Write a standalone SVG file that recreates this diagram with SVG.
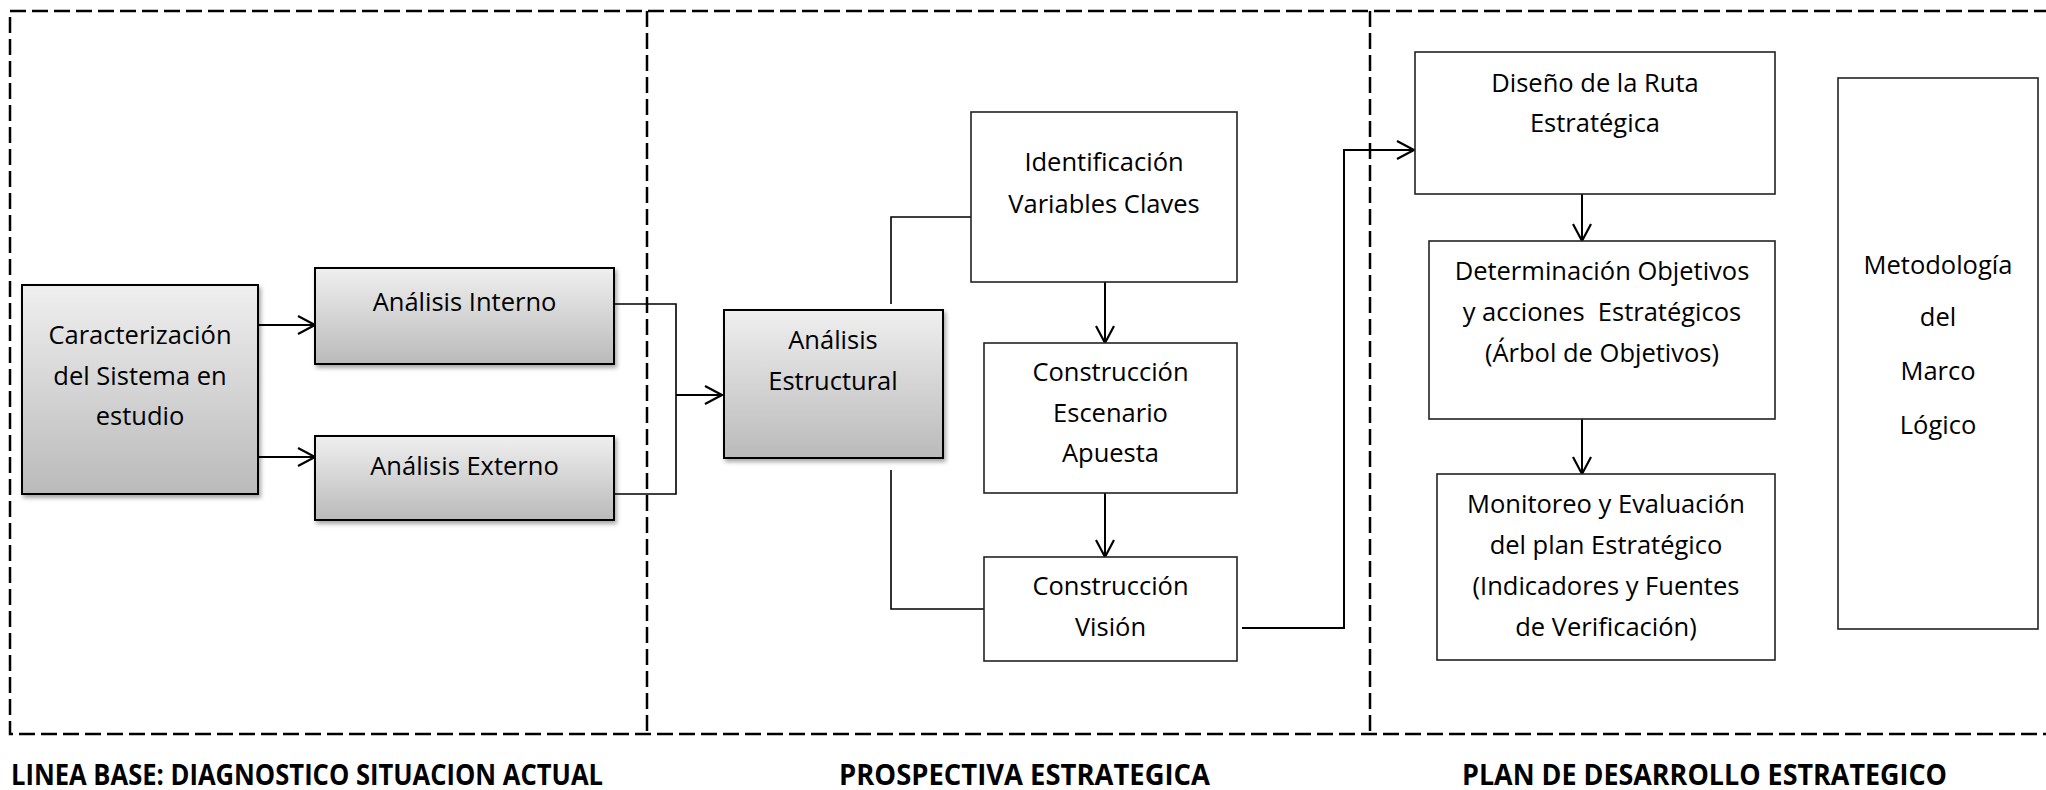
<svg xmlns="http://www.w3.org/2000/svg" width="2046" height="790" viewBox="0 0 2046 790">
  <defs>
    <linearGradient id="grey" x1="0" y1="0" x2="0" y2="1">
      <stop offset="0" stop-color="#efefef"/>
      <stop offset="1" stop-color="#bababa"/>
    </linearGradient>
    <filter id="shadow" x="-10%" y="-10%" width="130%" height="130%">
      <feDropShadow dx="2" dy="3" stdDeviation="2" flood-color="#000" flood-opacity="0.35"/>
    </filter>
    <marker id="arrow" markerUnits="userSpaceOnUse" markerWidth="22" markerHeight="22" refX="18" refY="10" orient="auto">
      <path d="M1,1 L18,10 L1,19" fill="none" stroke="#000" stroke-width="2.2"/>
    </marker>
    <style>
      .zone { fill: none; stroke: #000; stroke-width: 2.5; stroke-dasharray: 16 6; }
      .shaded { fill: url(#grey); stroke: #000; stroke-width: 2; filter: url(#shadow); }
      .plain { fill: #fff; stroke: #222; stroke-width: 1.6; }
      .label { font-family: "Open Sans", "Liberation Sans", sans-serif; font-size: 25.5px; fill: #000; text-anchor: middle; }
      .title { font-family: "Open Sans", "Liberation Sans", sans-serif; font-size: 29px; font-weight: bold; fill: #000; }
      .link { fill: none; stroke: #000; stroke-width: 2; }
      .thin { fill: none; stroke: #000; stroke-width: 1.6; }
    </style>
  </defs>

  <!-- stage frames -->
  <g id="frames">
    <rect class="zone" x="10" y="11" width="2060" height="723"/>
    <line class="zone" x1="647" y1="11" x2="647" y2="734"/>
    <line class="zone" x1="1370" y1="11" x2="1370" y2="734"/>
  </g>

  <!-- connectors -->
  <g id="connectors">
    <line class="link" x1="258" y1="325" x2="315" y2="325" marker-end="url(#arrow)"/>
    <line class="link" x1="258" y1="457" x2="315" y2="457" marker-end="url(#arrow)"/>
    <polyline class="thin" points="614,304 676,304 676,494 614,494"/>
    <line class="link" x1="676" y1="395" x2="722" y2="395" marker-end="url(#arrow)"/>
    <polyline class="thin" points="891,304 891,217 971,217"/>
    <polyline class="thin" points="891,470 891,609 984,609"/>
    <line class="link" x1="1105" y1="282" x2="1105" y2="343" marker-end="url(#arrow)"/>
    <line class="link" x1="1105" y1="493" x2="1105" y2="557" marker-end="url(#arrow)"/>
    <polyline class="link" points="1242,628 1344,628 1344,150 1414,150" marker-end="url(#arrow)"/>
    <line class="link" x1="1582" y1="194" x2="1582" y2="241" marker-end="url(#arrow)"/>
    <line class="link" x1="1582" y1="419" x2="1582" y2="474" marker-end="url(#arrow)"/>
  </g>

  <g id="caracterizacion">
    <rect class="shaded" x="22" y="285" width="236" height="209"/>
    <text class="label" x="140" y="344">Caracterización</text>
    <text class="label" x="140" y="385">del Sistema en</text>
    <text class="label" x="140" y="425">estudio</text>
  </g>

  <g id="analisis-interno">
    <rect class="shaded" x="315" y="268" width="299" height="96"/>
    <text class="label" x="464.5" y="311">Análisis Interno</text>
  </g>

  <g id="analisis-externo">
    <rect class="shaded" x="315" y="436" width="299" height="84"/>
    <text class="label" x="464.5" y="475">Análisis Externo</text>
  </g>

  <g id="analisis-estructural">
    <rect class="shaded" x="724" y="310" width="219" height="148"/>
    <text class="label" x="833" y="349">Análisis</text>
    <text class="label" x="833" y="390">Estructural</text>
  </g>

  <g id="identificacion">
    <rect class="plain" x="971" y="112" width="266" height="170"/>
    <text class="label" x="1104" y="171">Identificación</text>
    <text class="label" x="1104" y="213">Variables Claves</text>
  </g>

  <g id="escenario">
    <rect class="plain" x="984" y="343" width="253" height="150"/>
    <text class="label" x="1110.5" y="381">Construcción</text>
    <text class="label" x="1110.5" y="422">Escenario</text>
    <text class="label" x="1110.5" y="462">Apuesta</text>
  </g>

  <g id="vision">
    <rect class="plain" x="984" y="557" width="253" height="104"/>
    <text class="label" x="1110.5" y="595">Construcción</text>
    <text class="label" x="1110.5" y="636">Visión</text>
  </g>

  <g id="ruta">
    <rect class="plain" x="1415" y="52" width="360" height="142"/>
    <text class="label" x="1595" y="92">Diseño de la Ruta</text>
    <text class="label" x="1595" y="132">Estratégica</text>
  </g>

  <g id="objetivos">
    <rect class="plain" x="1429" y="241" width="346" height="178"/>
    <text class="label" x="1602" y="280">Determinación Objetivos</text>
    <text class="label" x="1602" y="321" xml:space="preserve">y acciones  Estratégicos</text>
    <text class="label" x="1602" y="362">(Árbol de Objetivos)</text>
  </g>

  <g id="monitoreo">
    <rect class="plain" x="1437" y="474" width="338" height="186"/>
    <text class="label" x="1606" y="513">Monitoreo y Evaluación</text>
    <text class="label" x="1606" y="554">del plan Estratégico</text>
    <text class="label" x="1606" y="595">(Indicadores y Fuentes</text>
    <text class="label" x="1606" y="636">de Verificación)</text>
  </g>

  <g id="marco-logico">
    <rect class="plain" x="1838" y="78" width="200" height="551"/>
    <text class="label" x="1938" y="274">Metodología</text>
    <text class="label" x="1938" y="326">del</text>
    <text class="label" x="1938" y="380">Marco</text>
    <text class="label" x="1938" y="434">Lógico</text>
  </g>

  <!-- stage titles -->
  <g id="titles">
    <text class="title" x="11" y="785" textLength="592" lengthAdjust="spacingAndGlyphs">LINEA BASE: DIAGNOSTICO SITUACION ACTUAL</text>
    <text class="title" x="839" y="785" textLength="371" lengthAdjust="spacingAndGlyphs">PROSPECTIVA ESTRATEGICA</text>
    <text class="title" x="1462" y="785" textLength="485" lengthAdjust="spacingAndGlyphs">PLAN DE DESARROLLO ESTRATEGICO</text>
  </g>
</svg>
